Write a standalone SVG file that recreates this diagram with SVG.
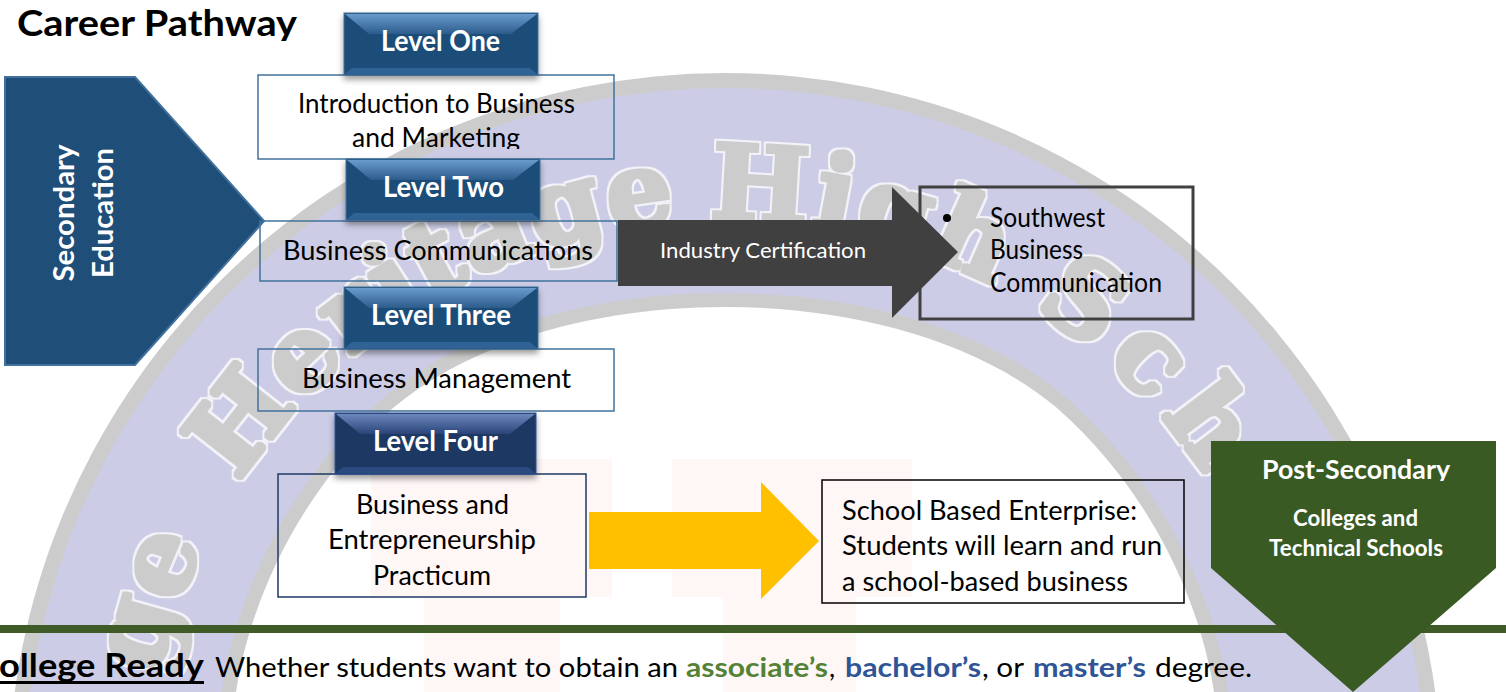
<svg xmlns="http://www.w3.org/2000/svg" width="1506" height="692" viewBox="0 0 1506 692">
<style>
text{font-family:"Lato","Open Sans","Liberation Sans",sans-serif;fill:#000}
.b{font-size:27px}
.w{fill:#fff;font-weight:700}
.lv{fill:#fff;font-weight:700;font-size:28px}
.box{fill:none;stroke:#41719c;stroke-width:1.5}
.wm{font-family:"DejaVu Serif",serif;font-weight:700;font-size:104px;fill:#cccccc}
.pk{fill:#fff6f6}
</style>
<defs>
<linearGradient id="gb" x1="0" y1="0" x2="0" y2="1"><stop offset="0" stop-color="#6a9bcd"/><stop offset="1" stop-color="#2c5c8c"/></linearGradient>
<linearGradient id="gn" x1="0" y1="0" x2="0" y2="1"><stop offset="0" stop-color="#6c88bd"/><stop offset="1" stop-color="#2a4478"/></linearGradient>
<filter id="sh" x="-10%" y="-10%" width="120%" height="135%"><feDropShadow dx="0" dy="4" stdDeviation="3" flood-color="#000" flood-opacity=".4"/></filter>
<filter id="fat" x="-10%" y="-10%" width="120%" height="120%">
<feMorphology in="SourceAlpha" operator="dilate" radius="4" result="o"/>
<feFlood flood-color="#f2f2f8"/><feComposite in2="o" operator="in" result="oc"/>
<feMorphology in="SourceAlpha" operator="dilate" radius="2" result="i"/>
<feFlood flood-color="#cccccc"/><feComposite in2="i" operator="in" result="ic"/>
<feMerge><feMergeNode in="oc"/><feMergeNode in="ic"/></feMerge>
</filter>
<path id="arc" d="M145,800 A580,580 0 0 1 1305,800"/>
<path id="inner" d="M236,692 C250,600 300,490 393,408 C480,335 610,307 725,307 C840,307 970,335 1057,408 C1150,490 1200,600 1214,692 Z"/>
<clipPath id="c1"><rect x="0" y="0" width="330" height="41"/></clipPath>
<clipPath id="c2"><rect x="258" y="75" width="356" height="74"/></clipPath>
<clipPath id="c3"><rect x="1211" y="441" width="285" height="40"/></clipPath>
</defs>
<rect width="1506" height="692" fill="#fff"/>
<g id="watermark">
<circle cx="725" cy="790" r="717" fill="#cccccc"/>
<circle cx="725" cy="790" r="702" fill="#ccccE6"/>
<use href="#inner" fill="none" stroke="#cccccc" stroke-width="28"/>
<use href="#inner" fill="#fff"/>
<rect class="pk" x="371" y="459" width="241" height="138"/>
<rect class="pk" x="672" y="459" width="240" height="138"/>
<rect class="pk" x="424" y="597" width="136" height="95"/>
<rect class="pk" x="723" y="597" width="133" height="95"/>
<g filter="url(#fat)">
<text class="wm"><textPath href="#arc" startOffset="125">ge</textPath></text>
<text class="wm"><textPath href="#arc" startOffset="335" letter-spacing="2">Heritage</textPath></text>
<text class="wm"><textPath href="#arc" startOffset="895" letter-spacing="3">High</textPath></text>
<text class="wm"><textPath href="#arc" startOffset="1235" letter-spacing="14">Sch</textPath></text>
</g>
</g>
<g id="connectors">
<polygon id="industry-arrow" points="618,220 892,220 892,187 958,252 892,318 892,286 618,286" fill="#404040"/>
<polygon id="enterprise-arrow" points="589,512 761,512 761,482 819,541 761,599 761,569 589,569" fill="#ffc000"/>
<rect id="rule" x="0" y="625" width="1506" height="8" fill="#3f5b27"/>
</g>
<g id="title"><text x="17" y="36" font-size="37" font-weight="700" textLength="280" lengthAdjust="spacingAndGlyphs" clip-path="url(#c1)">Career Pathway</text></g>
<g id="secondary-education">
<polygon points="5,77 135,77 264,221 135,365 5,365" fill="#1f4e79" stroke="#41719c" stroke-width="2"/>
<text class="w" font-size="28" text-anchor="middle" transform="translate(74,213) rotate(-90)" textLength="137" lengthAdjust="spacingAndGlyphs">Secondary</text>
<text class="w" font-size="28" text-anchor="middle" transform="translate(113,213) rotate(-90)" textLength="130" lengthAdjust="spacingAndGlyphs">Education</text>
</g>
<g id="course-one">
<rect class="box" x="258" y="75" width="356" height="84"/>
<g clip-path="url(#c2)"><text class="b" x="298" y="113" textLength="277" lengthAdjust="spacingAndGlyphs">Introduction to Business</text>
<text class="b" x="352" y="147" textLength="168" lengthAdjust="spacingAndGlyphs">and Marketing</text></g>
</g>
<g id="level-one">
<rect x="344" y="13" width="194" height="62" fill="#1f4e79" stroke="#41719c" filter="url(#sh)"/>
<polygon points="345,14 537,14 511,34 369,34" fill="url(#gb)"/>
<polygon points="345,74 537,74 530,68 352,68" fill="#2f6295"/>
<text class="lv" x="381" y="51" textLength="119" lengthAdjust="spacingAndGlyphs">Level One</text>
</g>
<g id="course-two">
<rect class="box" x="260" y="221" width="357" height="60"/>
<text class="b" x="283" y="260" textLength="310" lengthAdjust="spacingAndGlyphs">Business Communications</text>
</g>
<g id="level-two">
<rect x="346" y="159" width="194" height="61" fill="#1f4e79" stroke="#41719c" filter="url(#sh)"/>
<polygon points="347,160 539,160 513,180 371,180" fill="url(#gb)"/>
<polygon points="347,219 539,219 532,213 354,213" fill="#2f6295"/>
<text class="lv" x="383" y="197" textLength="121" lengthAdjust="spacingAndGlyphs">Level Two</text>
</g>
<g id="course-three">
<rect class="box" x="258" y="349" width="356" height="62"/>
<text class="b" x="302" y="388" textLength="269" lengthAdjust="spacingAndGlyphs">Business Management</text>
</g>
<g id="level-three">
<rect x="344" y="287" width="194" height="62" fill="#1f4e79" stroke="#41719c" filter="url(#sh)"/>
<polygon points="345,288 537,288 511,308 369,308" fill="url(#gb)"/>
<polygon points="345,348 537,348 530,342 352,342" fill="#2f6295"/>
<text class="lv" x="371" y="325" textLength="140" lengthAdjust="spacingAndGlyphs">Level Three</text>
</g>
<g id="course-four">
<rect x="278" y="474" width="308" height="123" fill="none" stroke="#1f3864" stroke-width="1.5"/>
<text class="b" x="356" y="514" textLength="153" lengthAdjust="spacingAndGlyphs">Business and</text>
<text class="b" x="328" y="549" textLength="208" lengthAdjust="spacingAndGlyphs">Entrepreneurship</text>
<text class="b" x="373" y="585" textLength="118" lengthAdjust="spacingAndGlyphs">Practicum</text>
</g>
<g id="level-four">
<rect x="335" y="413" width="201" height="61" fill="#1f3864" stroke="#2f5597" filter="url(#sh)"/>
<polygon points="336,414 535,414 510,434 360,434" fill="url(#gn)"/>
<polygon points="336,473 535,473 528,467 343,467" fill="#2a4a80"/>
<text class="lv" x="373" y="451" textLength="125" lengthAdjust="spacingAndGlyphs">Level Four</text>
</g>
<g id="industry-label"><text x="660" y="258" font-size="21" style="fill:#fff" textLength="206" lengthAdjust="spacingAndGlyphs">Industry Certification</text></g>
<g id="certification">
<rect x="920" y="187" width="273" height="132" fill="none" stroke="#404040" stroke-width="3"/>
<circle cx="947" cy="218" r="4" fill="#000"/>
<text class="b" x="990" y="227" textLength="115" lengthAdjust="spacingAndGlyphs">Southwest</text>
<text class="b" x="990" y="259" textLength="93" lengthAdjust="spacingAndGlyphs">Business</text>
<text class="b" x="990" y="292" textLength="172" lengthAdjust="spacingAndGlyphs">Communication</text>
</g>
<g id="enterprise">
<rect x="822" y="480" width="362" height="123" fill="none" stroke="#000" stroke-width="1.5"/>
<text class="b" x="842" y="520" textLength="295" lengthAdjust="spacingAndGlyphs">School Based Enterprise:</text>
<text class="b" x="842" y="555" textLength="320" lengthAdjust="spacingAndGlyphs">Students will learn and run</text>
<text class="b" x="842" y="591" textLength="286" lengthAdjust="spacingAndGlyphs">a school-based business</text>
</g>
<g id="post-secondary">
<polygon points="1211,441 1496,441 1496,568 1353,692 1211,568" fill="#3a5a24"/>
<text class="w" font-size="27" x="1262" y="479" textLength="188" lengthAdjust="spacingAndGlyphs" clip-path="url(#c3)">Post-Secondary</text>
<text class="w" font-size="22" x="1293" y="526" textLength="125" lengthAdjust="spacingAndGlyphs">Colleges and</text>
<text class="w" font-size="22" x="1269" y="556" textLength="174" lengthAdjust="spacingAndGlyphs">Technical Schools</text>
</g>
<g id="footer">
<text x="-1" y="677" font-size="33" font-weight="700" textLength="205" lengthAdjust="spacingAndGlyphs">ollege Ready</text>
<rect x="0" y="681" width="204" height="3" fill="#000"/>
<text x="215" y="677" font-size="27" textLength="463" lengthAdjust="spacingAndGlyphs">Whether students want to obtain an</text>
<text x="686" y="677" font-size="27" font-weight="700" style="fill:#548235" textLength="142" lengthAdjust="spacingAndGlyphs">associate’s</text>
<text x="829" y="677" font-size="27">,</text>
<text x="845" y="677" font-size="27" font-weight="700" style="fill:#2f5597" textLength="136" lengthAdjust="spacingAndGlyphs">bachelor’s</text>
<text x="982" y="677" font-size="27" textLength="42" lengthAdjust="spacingAndGlyphs">, or</text>
<text x="1033" y="677" font-size="27" font-weight="700" style="fill:#2f5597" textLength="113" lengthAdjust="spacingAndGlyphs">master’s</text>
<text x="1155" y="677" font-size="27" textLength="97" lengthAdjust="spacingAndGlyphs">degree.</text>
</g>
</svg>
